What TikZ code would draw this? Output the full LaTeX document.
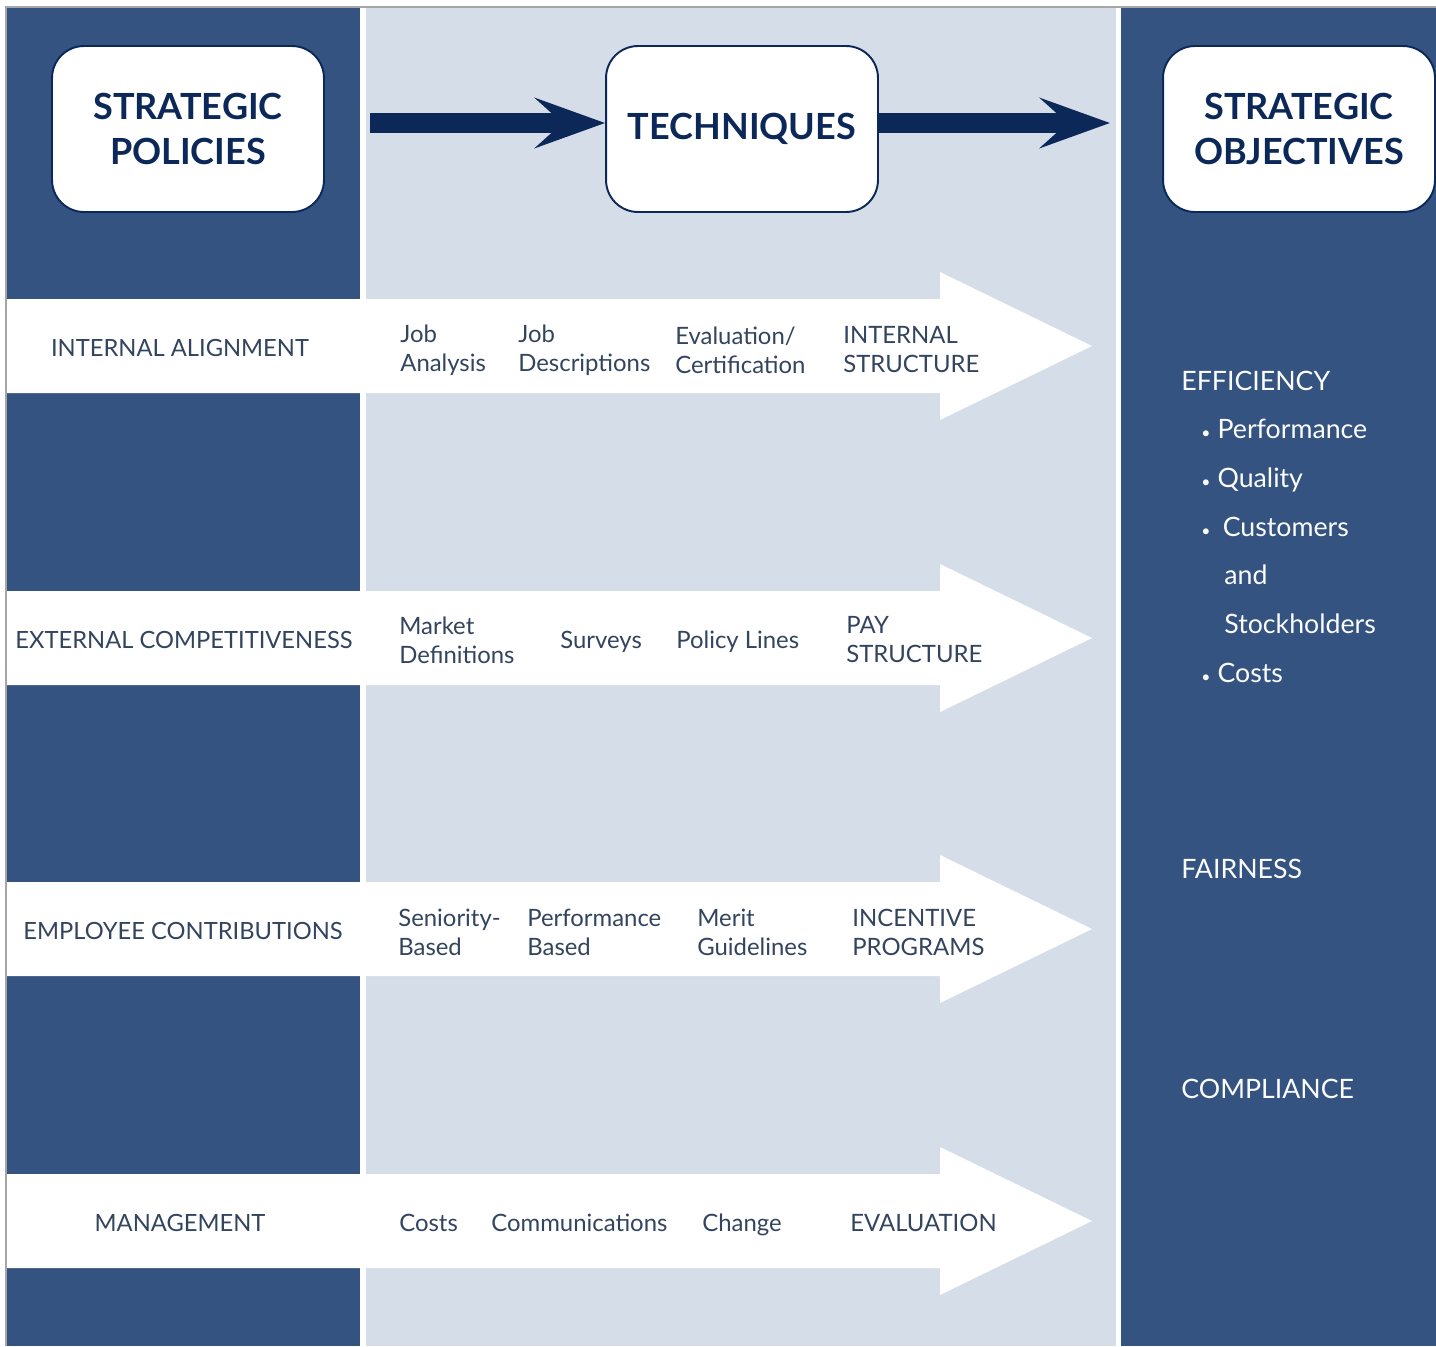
\documentclass[tikz,border=0pt]{standalone}
\usepackage{fontspec}
\setmainfont{Lato}
\usetikzlibrary{arrows.meta, positioning}

\definecolor{slateblue}{HTML}{355380}
\definecolor{paleblue}{HTML}{D5DDE9}
\definecolor{navy}{HTML}{0C2858}
\definecolor{bandtext}{HTML}{33445F}

\begin{document}
\begin{tikzpicture}[x=0.02cm, y=-0.02cm,
    headbox/.style={rectangle, rounded corners=0.64cm, draw=navy, line width=1.1pt, fill=white,
      minimum width=5.44cm, minimum height=3.32cm, align=center, text=navy,
      font=\fontsize{20.5}{25.6}\selectfont\bfseries},
    flowarrow/.style={navy, line width=0.4cm, -{Stealth[length=1.4cm, width=1cm, inset=0.55cm]}},
    band/.style={fill=white},
    policy/.style={inner sep=0pt, text=bandtext, font=\fontsize{13.5}{16.5}\selectfont},
    technique/.style={anchor=west, align=left, inner sep=0pt, text=bandtext, font=\fontsize{13.6}{16.5}\selectfont},
    single/.style={technique, text depth=0pt},
    objective/.style={anchor=base west, inner sep=0pt, text=white!90!paleblue, font=\fontsize{15.2}{17}\selectfont}
]
\useasboundingbox (0,0) rectangle (1436,1346);

% three columns on a white ground, thin frame on top and left
\fill[white] (0,0) rectangle (1436,1346);
\fill[slateblue] (7,8) rectangle (360,1346);
\fill[paleblue] (366,8) rectangle (1116,1346);
\fill[slateblue] (1121,8) rectangle (1436,1346);
\draw[gray!70, line width=1pt] (6,1346) -- (6,7) -- (1436,7);

% header boxes and the flow between them
\node[headbox] (pol) at (188,129) {STRATEGIC\\POLICIES};
\node[headbox] (tech) at (742,129) {TECHNIQUES};
\node[headbox] (obj) at (1299,129) {STRATEGIC\\OBJECTIVES};
\coordinate (flowin) at (370,123);
\coordinate (flowout) at (1110,123);
\draw[flowarrow] (flowin) -- (flowin -| tech.west);
\draw[flowarrow] (flowin -| tech.east) -- (flowout);

% white band arrows, one per policy row
\foreach \c in {346,638,929,1221} {
  \fill[band] (7,\c-47) -- (940,\c-47) -- (940,\c-74) -- (1092,\c)
    -- (940,\c+74) -- (940,\c+47) -- (7,\c+47) -- cycle;
}

% row 1
\node[policy] (align) at (180,348) {INTERNAL ALIGNMENT};
\node[technique] (jobanalysis) at (400,350) {Job\\Analysis};
\node[technique] (jobdesc) at (518,350) {Job\\Descriptions};
\node[technique] (evalcert) at (675,350) {Evaluation/\\Certification};
\node[technique] (intstruct) at (843,350) {INTERNAL\\STRUCTURE};

% row 2
\node[policy] (compete) at (184,640) {EXTERNAL COMPETITIVENESS};
\node[technique] (market) at (399,640) {Market\\Definitions};
\node[single] (surveys) at (560,640) {Surveys};
\node[single] (polline) at (676,640) {Policy Lines};
\node[technique] (paystruct) at (846,640) {PAY\\STRUCTURE};

% row 3
\node[policy] (contrib) at (183,931) {EMPLOYEE CONTRIBUTIONS};
\node[technique] (seniority) at (398,932) {Seniority-\\Based};
\node[technique] (perfbased) at (527,932) {Performance\\Based};
\node[technique] (merit) at (697,932) {Merit\\Guidelines};
\node[technique] (incentive) at (852,932) {INCENTIVE\\PROGRAMS};

% row 4
\node[policy] (manage) at (180,1223) {MANAGEMENT};
\node[single] (mcosts) at (399,1223) {Costs};
\node[single] (mcomm) at (491,1223) {Communications};
\node[single] (mchange) at (702,1223) {Change};
\node[single] (mevaluation) at (850,1223) {EVALUATION};

% objectives
\node[objective] (efficiency) at (1181,390) {EFFICIENCY};
\node[objective] (performance) at (1201,438) {{\small\textbullet}\hspace{4pt}Performance};
\node[objective] (quality) at (1201,487) {{\small\textbullet}\hspace{4pt}Quality};
\node[objective] (customers) at (1201,536) {{\small\textbullet}\hspace{7pt}Customers};
\node[objective] (and) at (1224,584) {and};
\node[objective] (stockholders) at (1224,633) {Stockholders};
\node[objective] (costs) at (1201,682) {{\small\textbullet}\hspace{4pt}Costs};
\node[objective] (fairness) at (1181,878) {FAIRNESS};
\node[objective] (compliance) at (1181,1098) {COMPLIANCE};
\end{tikzpicture}
\end{document}
